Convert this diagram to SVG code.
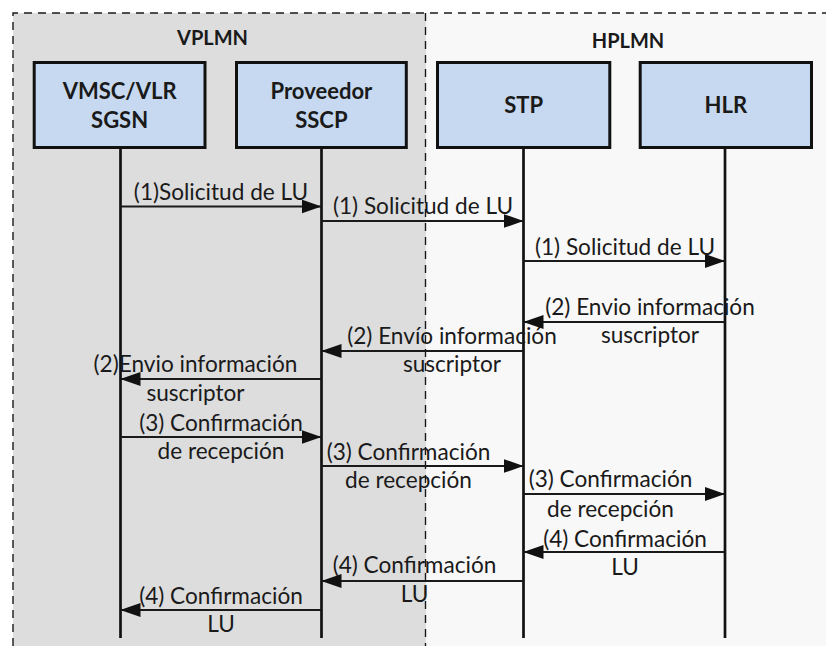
<svg xmlns="http://www.w3.org/2000/svg" width="826" height="646" viewBox="0 0 826 646">
<defs>
<style>
.zone-v{fill:#dddddd;}
.zone-h{fill:#f8f8f8;}
.border{fill:none;stroke:#1a1a1a;stroke-width:1.4;stroke-dasharray:8 6;}
.box{fill:#c6d9f0;stroke:#111;stroke-width:3;}
.life{stroke:#111;stroke-width:2.7;}
.msg{stroke:#1a1a1a;stroke-width:2;fill:none;marker-end:url(#ah);}
.title{font-family:Lato,"Liberation Sans",sans-serif;font-weight:bold;font-size:20px;fill:#1a1a1a;text-anchor:middle;}
.lbl{font-family:Lato,"Liberation Sans",sans-serif;font-weight:bold;font-size:22px;fill:#1a1a1a;text-anchor:middle;}
.txt{font-family:Lato,"Liberation Sans",sans-serif;font-size:22.6px;fill:#1a1a1a;text-anchor:middle;}
</style>
<marker id="ah" markerUnits="userSpaceOnUse" markerWidth="20" markerHeight="14" refX="20" refY="7" orient="auto">
<path d="M0,0 L20,7 L0,14 Z" fill="#111"/>
</marker>
</defs>
<rect x="0" y="0" width="826" height="646" fill="#ffffff"/>
<g id="zones">
<rect class="zone-v" x="13" y="13" width="413" height="633"/>
<rect class="zone-h" x="426" y="13" width="400" height="633"/>
<path class="border" d="M13,646 L13,13 L826,13"/>
<line class="border" x1="425.5" y1="13" x2="425.5" y2="646"/>
<text class="title" x="212.5" y="45">VPLMN</text>
<text class="title" x="628" y="48">HPLMN</text>
</g>
<g id="node-vmsc">
<rect class="box" x="34.2" y="62.5" width="170.8" height="85"/>
<text class="lbl" x="119.6" y="98.5">VMSC/VLR</text>
<text class="lbl" x="119.6" y="128">SGSN</text>
<line class="life" x1="120.5" y1="149" x2="120.5" y2="638"/>
</g>
<g id="node-sscp">
<rect class="box" x="236.5" y="62.5" width="169.8" height="85"/>
<text class="lbl" x="321.4" y="98.5">Proveedor</text>
<text class="lbl" x="321.4" y="128">SSCP</text>
<line class="life" x1="321.5" y1="149" x2="321.5" y2="638"/>
</g>
<g id="node-stp">
<rect class="box" x="437.5" y="62.5" width="172.3" height="85"/>
<text class="lbl" x="523.6" y="113">STP</text>
<line class="life" x1="523.5" y1="149" x2="523.5" y2="638"/>
</g>
<g id="node-hlr">
<rect class="box" x="640.2" y="62.5" width="171.3" height="85"/>
<text class="lbl" x="725.8" y="113">HLR</text>
<line class="life" x1="725" y1="149" x2="725" y2="638"/>
</g>
<g id="connectors">
<line class="msg" x1="120.5" y1="206.5" x2="321.5" y2="206.5"/>
<line class="msg" x1="321.5" y1="221" x2="523.5" y2="221"/>
<line class="msg" x1="523.5" y1="261" x2="725" y2="261"/>
<line class="msg" x1="725" y1="322" x2="523.5" y2="322"/>
<line class="msg" x1="523.5" y1="351" x2="321.5" y2="351"/>
<line class="msg" x1="321.5" y1="379" x2="120.5" y2="379"/>
<line class="msg" x1="120.5" y1="437" x2="321.5" y2="437"/>
<line class="msg" x1="321.5" y1="466" x2="523.5" y2="466"/>
<line class="msg" x1="523.5" y1="494" x2="725" y2="494"/>
<line class="msg" x1="725" y1="552" x2="523.5" y2="552"/>
<line class="msg" x1="523.5" y1="581" x2="321.5" y2="581"/>
<line class="msg" x1="321.5" y1="610" x2="120.5" y2="610"/>
</g>
<g id="labels">
<text class="txt" x="221" y="200">(1)Solicitud de LU</text>
<text class="txt" x="423" y="214">(1) Solicitud de LU</text>
<text class="txt" x="625" y="255">(1) Solicitud de LU</text>
<text class="txt" x="650" y="315">(2) Envio información</text>
<text class="txt" x="650" y="343">suscriptor</text>
<text class="txt" x="452" y="344">(2) Envío información</text>
<text class="txt" x="452" y="372">suscriptor</text>
<text class="txt" x="195.5" y="372">(2)Envio información</text>
<text class="txt" x="195.5" y="401">suscriptor</text>
<text class="txt" x="221" y="431">(3) Confirmación</text>
<text class="txt" x="221" y="459">de recepción</text>
<text class="txt" x="408.5" y="460">(3) Confirmación</text>
<text class="txt" x="408.5" y="488">de recepción</text>
<text class="txt" x="610.5" y="487">(3) Confirmación</text>
<text class="txt" x="610.5" y="517">de recepción</text>
<text class="txt" x="625" y="547">(4) Confirmación</text>
<text class="txt" x="625" y="575">LU</text>
<text class="txt" x="414.5" y="573">(4) Confirmación</text>
<text class="txt" x="414.5" y="602">LU</text>
<text class="txt" x="221" y="604">(4) Confirmación</text>
<text class="txt" x="221" y="632">LU</text>
</g>
</svg>
